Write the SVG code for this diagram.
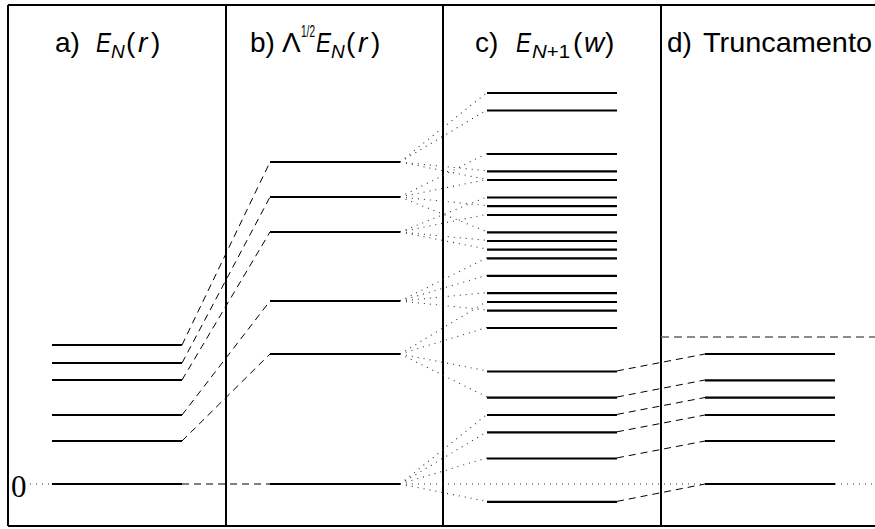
<svg xmlns="http://www.w3.org/2000/svg" width="875" height="529" viewBox="0 0 875 529">
<style>
.frame{stroke:#000;stroke-width:2;fill:none}
.lvl{stroke:#000;stroke-width:2.2}
.dash{stroke:#000;stroke-width:1;stroke-dasharray:7 5;fill:none}
.dot{stroke:#333;stroke-width:1.1;stroke-dasharray:1 5;fill:none}
.trunc{stroke:#666;stroke-width:1.3;stroke-dasharray:8 5;fill:none}
.hd{font-family:"Liberation Sans",Arial,sans-serif;font-size:28px;fill:#000}
.it{font-style:italic}
.sub{font-size:19px}
.sup{font-size:16px}
.zero{font-family:"Liberation Serif","Times New Roman",serif;font-size:31px;fill:#000}
</style>
<rect width="875" height="529" fill="#fff"/>
<g id="frame">
<line class="frame" x1="8" y1="5" x2="875" y2="5"/>
<line class="frame" x1="8" y1="526" x2="875" y2="526"/>
<line class="frame" x1="8" y1="5" x2="8" y2="526"/>
<line class="frame" x1="226" y1="5" x2="226" y2="526"/>
<line class="frame" x1="443" y1="5" x2="443" y2="526"/>
<line class="frame" x1="661" y1="5" x2="661" y2="526"/>
</g>
<g id="headers">
<text class="hd" x="55" y="52">a)</text>
<text class="hd it" x="96" y="52" textLength="15" lengthAdjust="spacingAndGlyphs">E</text>
<text class="hd it sub" x="111" y="58">N</text>
<text class="hd" x="126" y="52">(</text>
<text class="hd it" x="138" y="52">r</text>
<text class="hd" x="151" y="52">)</text>
<text class="hd" x="250" y="52">b)</text>
<text class="hd" x="282" y="52">Λ</text>
<text class="hd sup" x="301" y="37" textLength="14" lengthAdjust="spacingAndGlyphs">1/2</text>
<text class="hd it" x="316" y="52" textLength="15" lengthAdjust="spacingAndGlyphs">E</text>
<text class="hd it sub" x="331" y="58">N</text>
<text class="hd" x="346" y="52">(</text>
<text class="hd it" x="358" y="52">r</text>
<text class="hd" x="371" y="52">)</text>
<text class="hd" x="475" y="52">c)</text>
<text class="hd it" x="516" y="52" textLength="15" lengthAdjust="spacingAndGlyphs">E</text>
<text class="hd sub" x="532" y="58" textLength="38" lengthAdjust="spacingAndGlyphs"><tspan class="it">N</tspan>+1</text>
<text class="hd" x="573" y="52">(</text>
<text class="hd it" x="584" y="52">w</text>
<text class="hd" x="605" y="52">)</text>
<text class="hd" x="667" y="52">d)</text>
<text class="hd" x="703" y="52" textLength="169" lengthAdjust="spacingAndGlyphs">Truncamento</text>
</g>
<g id="zero-label">
<text class="zero" x="11" y="497">0</text>
</g>
<g id="connectors">
<line class="dot" x1="30" y1="484" x2="52" y2="484"/>
<line class="dot" x1="400" y1="484" x2="705" y2="484"/>
<line class="dot" x1="835" y1="484" x2="875" y2="484"/>
<line class="trunc" x1="661" y1="337" x2="875" y2="337"/>
<path class="dash" d="M182,345 L270,162 M182,363 L270,197 M182,380 L270,232 M182,415 L270,301 M182,441 L270,354 M182,484 L270,484"/>
<path class="dash" d="M617,501.4 L705,484 M617,457.9 L705,441 M617,431.8 L705,415 M617,414.4 L705,397.5 M617,397 L705,380 M617,370.9 L705,354"/>
<path class="dot" d="M400,162 L487,92.5 M400,162 L487,109.9 M400,162 L487,170.8 M400,162 L487,179.5"/>
<path class="dot" d="M400,197 L487,153.4 M400,197 L487,179.5 M400,197 L487,205.6 M400,197 L487,231.7"/>
<path class="dot" d="M400,232 L487,196.9 M400,232 L487,214.3 M400,232 L487,240.4 M400,232 L487,249.1"/>
<path class="dot" d="M400,301 L487,257.8 M400,301 L487,275.2 M400,301 L487,292.6 M400,301 L487,310"/>
<path class="dot" d="M400,354 L487,301.3 M400,354 L487,327.4 M400,354 L487,370.9 M400,354 L487,397"/>
<path class="dot" d="M400,484 L487,414.4 M400,484 L487,431.8 M400,484 L487,457.9 M400,484 L487,501.4"/>
</g>
<g id="col-a">
<line class="lvl" x1="52" y1="345" x2="182" y2="345"/>
<line class="lvl" x1="52" y1="363" x2="182" y2="363"/>
<line class="lvl" x1="52" y1="380" x2="182" y2="380"/>
<line class="lvl" x1="52" y1="415" x2="182" y2="415"/>
<line class="lvl" x1="52" y1="441" x2="182" y2="441"/>
<line class="lvl" x1="52" y1="484" x2="182" y2="484"/>
</g>
<g id="col-b">
<line class="lvl" x1="270" y1="162" x2="400" y2="162"/>
<line class="lvl" x1="270" y1="197" x2="400" y2="197"/>
<line class="lvl" x1="270" y1="232" x2="400" y2="232"/>
<line class="lvl" x1="270" y1="301" x2="400" y2="301"/>
<line class="lvl" x1="270" y1="354" x2="400" y2="354"/>
<line class="lvl" x1="270" y1="484" x2="400" y2="484"/>
</g>
<g id="col-c">
<line class="lvl" x1="487" y1="93" x2="617" y2="93"/>
<line class="lvl" x1="487" y1="110.5" x2="617" y2="110.5"/>
<line class="lvl" x1="487" y1="154" x2="617" y2="154"/>
<line class="lvl" x1="487" y1="171.3" x2="617" y2="171.3"/>
<line class="lvl" x1="487" y1="180" x2="617" y2="180"/>
<line class="lvl" x1="487" y1="197.5" x2="617" y2="197.5"/>
<line class="lvl" x1="487" y1="206.2" x2="617" y2="206.2"/>
<line class="lvl" x1="487" y1="215" x2="617" y2="215"/>
<line class="lvl" x1="487" y1="232.3" x2="617" y2="232.3"/>
<line class="lvl" x1="487" y1="241" x2="617" y2="241"/>
<line class="lvl" x1="487" y1="249.7" x2="617" y2="249.7"/>
<line class="lvl" x1="487" y1="258.4" x2="617" y2="258.4"/>
<line class="lvl" x1="487" y1="275.8" x2="617" y2="275.8"/>
<line class="lvl" x1="487" y1="293.2" x2="617" y2="293.2"/>
<line class="lvl" x1="487" y1="302" x2="617" y2="302"/>
<line class="lvl" x1="487" y1="310.6" x2="617" y2="310.6"/>
<line class="lvl" x1="487" y1="328" x2="617" y2="328"/>
<line class="lvl" x1="487" y1="371.5" x2="617" y2="371.5"/>
<line class="lvl" x1="487" y1="397.6" x2="617" y2="397.6"/>
<line class="lvl" x1="487" y1="415" x2="617" y2="415"/>
<line class="lvl" x1="487" y1="432.3" x2="617" y2="432.3"/>
<line class="lvl" x1="487" y1="458.5" x2="617" y2="458.5"/>
<line class="lvl" x1="487" y1="501.8" x2="617" y2="501.8"/>
</g>
<g id="col-d">
<line class="lvl" x1="705" y1="354" x2="835" y2="354"/>
<line class="lvl" x1="705" y1="380.3" x2="835" y2="380.3"/>
<line class="lvl" x1="705" y1="397.6" x2="835" y2="397.6"/>
<line class="lvl" x1="705" y1="415" x2="835" y2="415"/>
<line class="lvl" x1="705" y1="441" x2="835" y2="441"/>
<line class="lvl" x1="705" y1="484" x2="835" y2="484"/>
</g>
</svg>
